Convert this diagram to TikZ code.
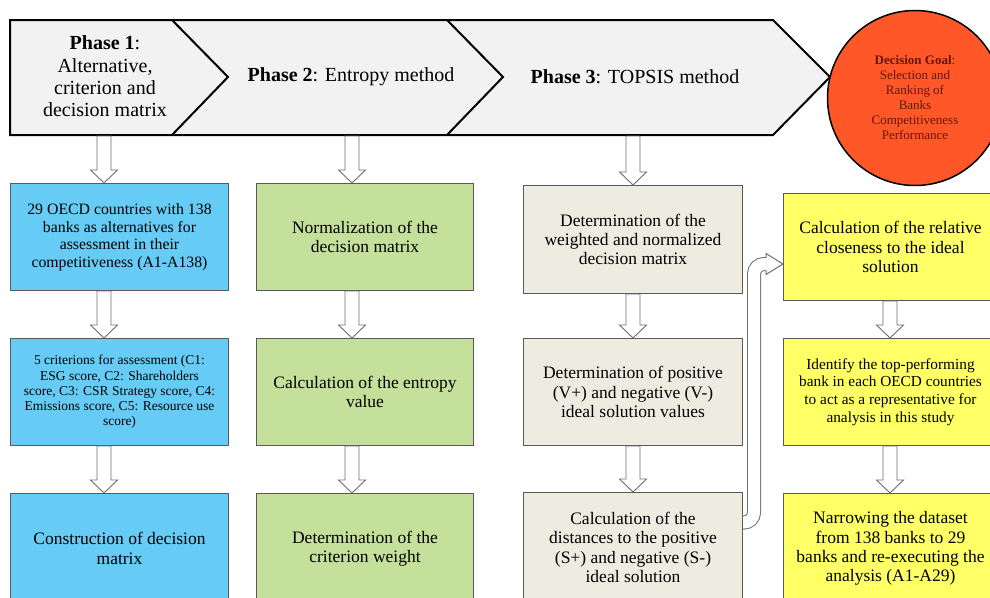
\documentclass[tikz,border=0pt]{standalone}
\usepackage{fontspec}
\setmainfont{Liberation Serif}
\usetikzlibrary{calc}

\definecolor{bluebox}{RGB}{102,204,245}
\definecolor{greenbox}{RGB}{196,224,155}
\definecolor{graybox}{RGB}{238,236,225}
\definecolor{yellowbox}{RGB}{255,255,102}
\definecolor{goalred}{RGB}{255,87,40}
\definecolor{goaltext}{RGB}{100,22,10}
\definecolor{bannerfill}{RGB}{242,242,242}
\definecolor{boxline}{RGB}{90,90,90}
\definecolor{arrowgray}{RGB}{110,110,110}

\newcommand{\fs}[2]{\fontsize{#1}{#2}\selectfont}

% hollow block arrow going down from #1 to #2
\newcommand{\hollowarrow}[2]{%
  \draw[harrow] let \p1=(#1), \p2=(#2) in
    (\x1-7pt,\y1) -- (\x1+7pt,\y1) -- (\x1+7pt,\y2+13pt) -- (\x1+13.5pt,\y2+13pt)
    -- (\x1,\y2) -- (\x1-13.5pt,\y2+13pt) -- (\x1-7pt,\y2+13pt) -- cycle;}

\tikzset{
  box/.style={draw=boxline, line width=1pt, align=center, inner sep=2pt,
    anchor=north west, font=\fs{17.5}{19.3}},
  bluecol/.style={box, fill=bluebox, minimum width=218pt},
  greencol/.style={box, fill=greenbox, minimum width=217pt},
  tancol/.style={box, fill=graybox, minimum width=219pt},
  yellowcol/.style={box, fill=yellowbox, minimum width=214pt},
  harrow/.style={draw=arrowgray, line width=0.9pt, fill=white},
  phase/.style={align=center, font=\fs{20}{22.3}},
}

\begin{document}
\begin{tikzpicture}[x=1pt,y=-1pt]
\useasboundingbox (0,0) rectangle (990,597);
\clip (0,0) rectangle (990,597);

% the phase banner
\draw[line width=2pt, fill=bannerfill] (10,20) -- (773,20) -- (830,77) -- (773,135) -- (10,135) -- cycle;
\draw[line width=2pt] (172,20) -- (228,77) -- (172,135);
\draw[line width=2pt] (447,20) -- (503,77) -- (447,135);
\node[phase] (ph1) at (105,76.5) {\textbf{Phase 1}:\\Alternative,\\criterion and\\decision matrix};
\node[phase] (ph2) at (351,77) {\textbf{Phase 2}: Entropy method};
\node[phase] (ph3) at (635,77) {\textbf{Phase 3}: TOPSIS method};

% the goal circle
\node[circle, draw, line width=1.5pt, fill=goalred, minimum size=175pt, inner sep=0pt,
  align=center, text=goaltext, font=\fs{13}{15}] (goal) at (915,98)
  {\textbf{Decision Goal}:\\Selection and\\Ranking of\\Banks\\Competitiveness\\Performance};

% column 1
\node[bluecol, minimum height=107pt, font=\fs{15.8}{17.5}] (b1) at (10,183)
  {29 OECD countries with 138\\banks as alternatives for\\assessment in their\\competitiveness (A1-A138)};
\node[bluecol, minimum height=107pt, font=\fs{13.5}{15.2}] (b2) at (10,338)
  {5 criterions for assessment (C1:\\ESG score, C2: Shareholders\\score, C3: CSR Strategy score, C4:\\Emissions score, C5: Resource use\\score)};
\node[bluecol, minimum height=110pt] (b3) at (10,493) {Construction of decision\\matrix};

% column 2
\node[greencol, minimum height=107pt] (g1) at (256,183) {Normalization of the\\decision matrix};
\node[greencol, minimum height=107pt] (g2) at (256,338) {Calculation of the entropy\\value};
\node[greencol, minimum height=110pt] (g3) at (256,493) {Determination of the\\criterion weight};

% column 3
\node[tancol, minimum height=108pt] (t1) at (523,185) {Determination of the\\weighted and normalized\\decision matrix};
\node[tancol, minimum height=107pt] (t2) at (523,338) {Determination of positive\\(V+) and negative (V-)\\ideal solution values};
\node[tancol, minimum height=110pt] (t3) at (523,492) {Calculation of the\\distances to the positive\\(S+) and negative (S-)\\ideal solution};

% column 4
\node[yellowcol, minimum height=107pt] (y1) at (783,193) {Calculation of the relative\\closeness to the ideal\\solution};
\node[yellowcol, minimum height=107pt, font=\fs{15.3}{17.8}] (y2) at (783,338)
  {Identify the top-performing\\bank in each OECD countries\\to act as a representative for\\analysis in this study};
\node[yellowcol, minimum height=110pt] (y3) at (783,493) {Narrowing the dataset\\from 138 banks to 29\\banks and re-executing the\\analysis (A1-A29)};

% the hollow arrows
\coordinate (c1) at (104,136);
\coordinate (c2) at (352,136);
\coordinate (c3) at (633,136);
\coordinate (c4) at (890,136);
\hollowarrow{c1}{b1.north -| c1}
\hollowarrow{c2}{g1.north -| c2}
\hollowarrow{c3}{t1.north -| c3}
\foreach \a/\b/\c in {b1/b2/c1, b2/b3/c1, g1/g2/c2, g2/g3/c2, t1/t2/c3, t2/t3/c3, y1/y2/c4, y2/y3/c4}
  \hollowarrow{\a.south -| \c}{\b.north -| \c};

% the curved arrow from phase 3 to the yellow column
\coordinate (hd) at ([xshift=-17pt,yshift=-17pt]y1.west);
\draw[arrowgray, line width=1pt, double=white, double distance=12pt, rounded corners=10pt]
  ([yshift=25pt]t3.east) -- ++(11,0) |- (hd);
\draw[arrowgray, line width=1pt, line join=miter]
  ($(hd)+(0,-6.5)$) -- ++(0,-4) -- (y1.west |- hd) -- ($(hd)+(0,10.5)$) -- ++(0,-4);
\end{tikzpicture}
\end{document}
